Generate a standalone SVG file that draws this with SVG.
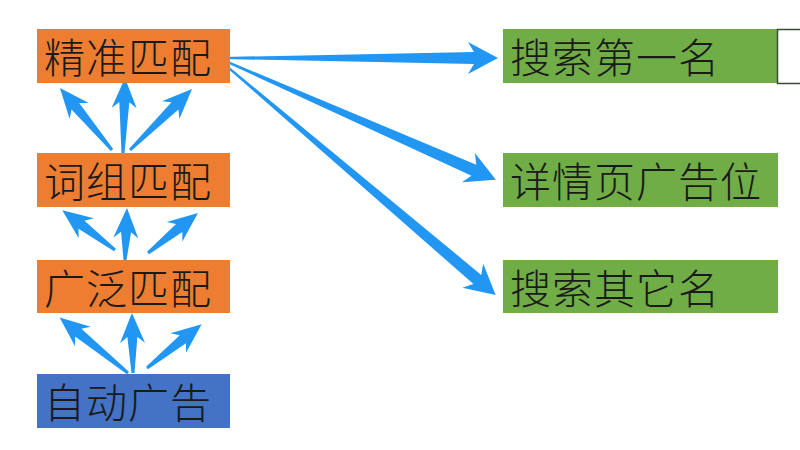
<svg xmlns="http://www.w3.org/2000/svg" width="800" height="450" viewBox="0 0 800 450">
<style>
.o{fill:#ED7D31}
.b{fill:#4472C4}
.g{fill:#70AD47}
.t{font-family:"Noto Sans CJK SC","Noto Sans",sans-serif;font-size:41px;font-weight:300;fill:#1a1a1a;letter-spacing:1px}
.a{fill:#2196F3}
</style>
<rect width="800" height="450" fill="#ffffff"/>
<g id="connectors">
<polygon class="a" transform="translate(112,150) rotate(-130)" points="0,-1.5 57,-5 51,-12.5 81,0 51,12.5 57,5 0,1.5"/>
<polygon class="a" transform="translate(123,153) rotate(-88.5)" points="0,-1.5 51,-5 45,-12.5 75,0 45,12.5 51,5 0,1.5"/>
<polygon class="a" transform="translate(130,150) rotate(-44.5)" points="0,-1.5 63,-5 57,-12.5 87,0 57,12.5 63,5 0,1.5"/>
<polygon class="a" transform="translate(115,250) rotate(-143)" points="0,-1.5 42,-5 36,-12.5 66,0 36,12.5 42,5 0,1.5"/>
<polygon class="a" transform="translate(125,260) rotate(-87.8)" points="0,-1.5 28,-5 22,-12.5 52,0 22,12.5 28,5 0,1.5"/>
<polygon class="a" transform="translate(148,253) rotate(-38.7)" points="0,-1.5 40,-5 34,-12.5 64,0 34,12.5 40,5 0,1.5"/>
<polygon class="a" transform="translate(128,373) rotate(-141)" points="0,-1.5 64,-5 58,-12.5 88,0 58,12.5 64,5 0,1.5"/>
<polygon class="a" transform="translate(133,373) rotate(-91)" points="0,-1.5 36,-5 30,-12.5 60,0 30,12.5 36,5 0,1.5"/>
<polygon class="a" transform="translate(147,368) rotate(-38.7)" points="0,-1.5 46,-5 40,-12.5 70,0 40,12.5 46,5 0,1.5"/>
<polygon class="a" transform="translate(223,58) rotate(0)" points="0,-1 251,-6 245,-16 275,0 245,16 251,6 0,1"/>
<polygon class="a" transform="translate(223,60) rotate(23.7)" points="0,-1 274,-6 268,-16 298,0 268,16 274,6 0,1"/>
<polygon class="a" transform="translate(223,63) rotate(40.4)" points="0,-1 334,-6 328,-16 358,0 328,16 334,6 0,1"/>
</g>
<g id="n1"><rect class="o" x="37" y="29" width="193" height="54"/><text class="t" x="44" y="73">精准匹配</text></g>
<g id="n2"><rect class="o" x="37" y="153" width="193" height="54"/><text class="t" x="44" y="197">词组匹配</text></g>
<g id="n3"><rect class="o" x="37" y="260" width="193" height="53"/><text class="t" x="44" y="304">广泛匹配</text></g>
<g id="n4"><rect class="b" x="37" y="374" width="193" height="54"/><text class="t" x="44" y="418">自动广告</text></g>
<g id="r1"><rect class="g" x="503" y="29" width="274" height="54"/><text class="t" x="510" y="73">搜索第一名</text></g>
<g id="r2"><rect class="g" x="503" y="153" width="275" height="54"/><text class="t" x="510" y="197">详情页广告位</text></g>
<g id="r3"><rect class="g" x="503" y="260" width="275" height="53"/><text class="t" x="510" y="304">搜索其它名</text></g>
<g id="box"><rect x="777.5" y="29.5" width="30" height="54" fill="#ffffff" stroke="#3b4a3b" stroke-width="1.5"/></g>
</svg>
